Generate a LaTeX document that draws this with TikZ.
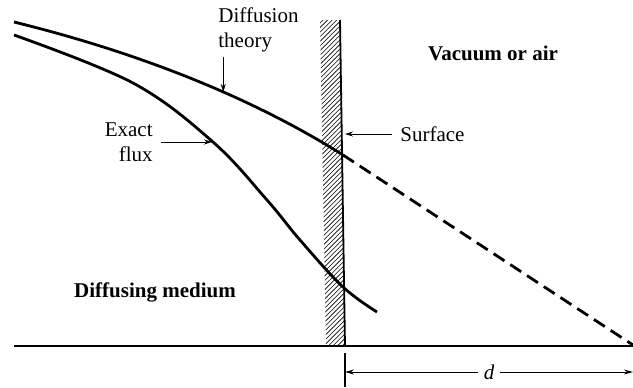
\documentclass[tikz,border=0pt]{standalone}
\usepackage{fontspec}
\setmainfont{Liberation Serif}
\usepackage{tikz}
\usetikzlibrary{arrows.meta, positioning}

\begin{document}
\begin{tikzpicture}[
    x=0.5pt, y=-0.5pt,
    font=\fontsize{10.5}{12.5}\selectfont,
    curve/.style={line width=1.4pt},
    wall/.style={line width=0.9pt},
    hatch/.style={line width=0.3pt},
    label/.style={inner sep=2pt},
    region/.style={font=\fontsize{10.5}{12.5}\selectfont\bfseries},
    pointer/.style={-{Stealth[length=4pt,width=2.5pt]}, line width=0.4pt},
    dimline/.style={{Stealth[length=4.5pt,width=2.5pt]}-{Stealth[length=4.5pt,width=2.5pt]}, line width=0.5pt}
]
\useasboundingbox (0,0) rectangle (633,387);

% === SURFACE (hatched wall) ===
\begin{scope}
  \clip (320,20) -- (340,20) -- (345,346) -- (326,346) -- cycle;
  \foreach \k in {0,...,90}
    \draw[hatch] (300,{20+4.6*\k}) -- ++(60,-60);
\end{scope}
\draw[wall] (340,20) -- (345,346);
\draw[line width=0.8pt] (14,346) -- (633,346);

% === CURVES ===
\draw[curve] (14,22) .. controls (120,48) and (240,90) .. (343,155)
  coordinate[pos=0.63] (dt);
\draw[curve, dash pattern=on 6.5pt off 3.5pt] (343,155) -- (633,345);
\draw[curve] plot[smooth, tension=0.6] coordinates
  {(14,35) (133,83) (213,142) (267,200) (300,240) (343,287) (377,312)};
\coordinate (ef) at (212,142);
\coordinate (sf) at (345,134);

% === LABELS ===
\node[label, anchor=west, align=left] (dtlabel) at (214,30) {Diffusion\\theory};
\node[label, anchor=east, align=right] (eflabel) at (157,142) {Exact\\flux};
\node[label, anchor=west] (sflabel) at (396,134) {Surface};
\node[region] (vacuum) at (493,53) {Vacuum or air};
\node[region] (medium) at (155,292) {Diffusing medium};

% === ARROWS ===
\draw[pointer] (dt |- dtlabel.south) -- (dt);
\draw[pointer] (eflabel.east) ++(4,0) -- (ef);
\draw[pointer] (sflabel.west) ++(-4,0) -- (sf);

% === DISTANCE d ===
\coordinate (dl) at (345,372);
\coordinate (dr) at (633,372);
\draw[line width=0.6pt] (345,353) -- (345,387);
\draw[dimline] (dl) -- node[fill=white, inner sep=3pt, font=\fontsize{10.5}{12.5}\selectfont\itshape] (dlabel) {d} (dr);

\end{tikzpicture}
\end{document}
